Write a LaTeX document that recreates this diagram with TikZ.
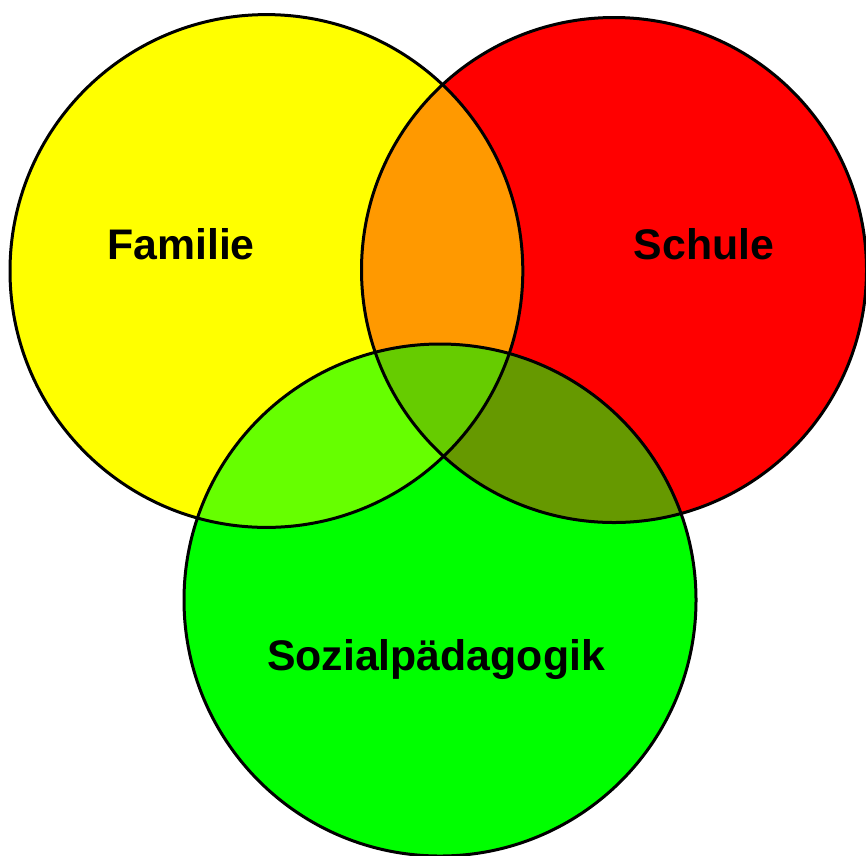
\documentclass[tikz,border=0pt]{standalone}
\usepackage{fontspec}
\setmainfont{Liberation Sans}
\definecolor{cyel}{HTML}{FFFF00}
\definecolor{cred}{HTML}{FF0000}
\definecolor{cgrn}{HTML}{00FF00}
\definecolor{corg}{HTML}{FF9900}
\definecolor{cyg}{HTML}{66FF00}
\definecolor{crg}{HTML}{669900}
\definecolor{cmid}{HTML}{66CC00}
\tikzset{
  ring/.style={draw=black, line width=3pt},
  lbl/.style={font=\fontsize{42.8}{50}\selectfont\bfseries, text=black, inner sep=0pt}
}
\begin{document}
\begin{tikzpicture}[x=1pt, y=-1pt]
\useasboundingbox (0,0) rectangle (866,855);
\def\ya{(266.4,271) circle (256.4)}
\def\ra{(614,270) circle (252.5)}
\def\ga{(440,600) circle (256)}
% base fills
\fill[cyel] \ya;
\fill[cred] \ra;
\fill[cgrn] \ga;
% pairwise overlaps
\begin{scope}
  \clip \ya;
  \fill[corg] \ra;
  \fill[cyg] \ga;
\end{scope}
\begin{scope}
  \clip \ra;
  \fill[crg] \ga;
\end{scope}
\begin{scope}
  \clip \ya;
  \clip \ra;
  \fill[cmid] \ga;
\end{scope}
% outlines
\draw[ring] \ya;
\draw[ring] \ra;
\draw[ring] \ga;
% labels
\node[lbl] (fam) at (181,244) {Familie};
\node[lbl] (sch) at (704,244) {Schule};
\node[lbl] (soz) at (436,660) {Sozialpädagogik};
\end{tikzpicture}
\end{document}
